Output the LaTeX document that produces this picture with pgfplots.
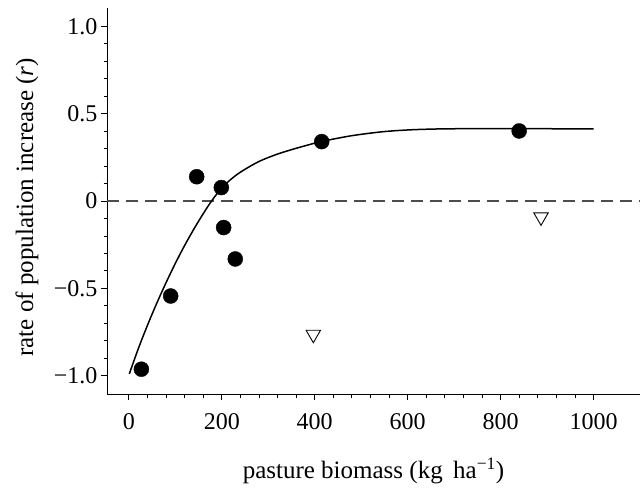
\documentclass[border=0pt]{standalone}
\usepackage{pgfplots}
\pgfplotsset{compat=1.18}
\usepackage{fontspec}
\setmainfont{Liberation Serif}

\begin{document}
\begin{tikzpicture}
\begin{axis}[
  scale only axis,
  width=533pt, height=386pt,
  xmin=-47, xmax=1100,
  ymin=-1.105, ymax=1.105,
  axis x line*=bottom, axis y line*=left,
  axis line style={line width=0.8pt},
  tick align=outside,
  major tick length=6pt, minor tick length=3.5pt,
  every tick/.style={black, line width=0.8pt},
  xtick={0,200,400,600,800,1000},
  xticklabels={0,200,400,600,800,1000},
  ytick={-1,-0.5,0,0.5,1},
  yticklabels={−1.0,−0.5,0,0.5,1.0},
  minor x tick num=4, minor y tick num=4,
  tick label style={font=\fontsize{24}{28}\selectfont},
  xticklabel style={yshift=-10pt},
  xlabel={pasture biomass (kg\ \,ha\textsuperscript{−1})},
  ylabel={rate of population increase (\textit{r})},
  xlabel style={at={(axis description cs:0.5,-0.2202)}, anchor=base, font=\fontsize{25}{30}\selectfont},
  ylabel style={at={(axis description cs:-0.1388,0.484)}, anchor=base, font=\fontsize{25}{30}\selectfont},
  clip=false,
]
% zero reference line
\addplot[color=black!70, line width=1.1pt, dash pattern=on 12pt off 7pt]
  coordinates {(-47,0) (1100,0)};
% fitted curve
\addplot[black, line width=1.5pt, smooth, mark=none] coordinates {
  (1,-0.99) (20,-0.848) (40,-0.712) (60,-0.586) (80,-0.468) (101,-0.352)
  (120,-0.255) (141,-0.156) (160,-0.073) (178,0) (199,0.072) (220,0.125)
  (243,0.170) (279,0.225) (315,0.264) (350,0.294) (386,0.321) (415,0.341)
  (480,0.374) (548,0.397) (610,0.408) (677,0.413) (750,0.414) (850,0.414) (1000,0.413)
};
% filled circles
\addplot[only marks, mark=*, mark size=7.5pt, black] coordinates {
  (27,-0.963) (90,-0.544) (146,0.139) (199,0.077) (204,-0.152)
  (229,-0.332) (415,0.34) (840,0.401)
};
% open triangles
\addplot[only marks, mark=triangle, mark size=8.3pt, mark options={rotate=180, line width=0.9pt}, black] coordinates {
  (397,-0.764) (887,-0.092)
};
\end{axis}
\path (current axis.south west) ++(-107pt,-92pt) rectangle ++(644pt,486pt);
\end{tikzpicture}
\end{document}
